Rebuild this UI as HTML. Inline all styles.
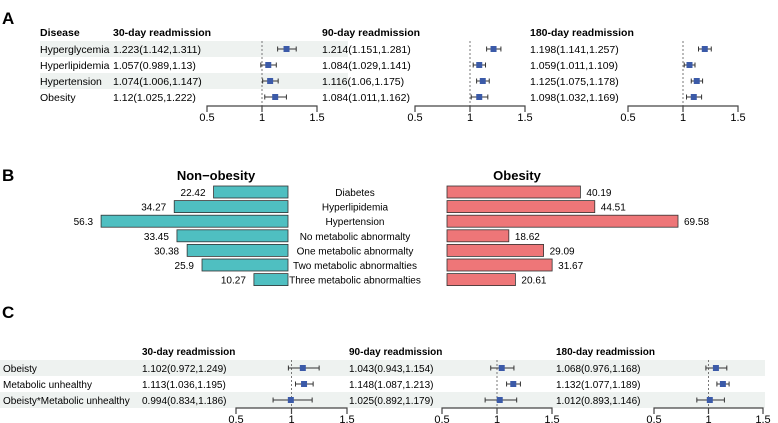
<!DOCTYPE html>
<html><head><meta charset="utf-8">
<style>
body{margin:0;background:#fff;}
svg{display:block;font-family:"Liberation Sans",Arial,sans-serif;}
</style></head>
<body>
<svg id="fig" width="778" height="423" viewBox="0 0 778 423" xmlns="http://www.w3.org/2000/svg">
<text x="2" y="24" font-size="17" font-weight="bold">A</text>
<text x="2" y="181" font-size="17" font-weight="bold">B</text>
<text x="2" y="318" font-size="17" font-weight="bold">C</text>
<g id="A"></g><g id="B"></g><g id="C"></g>
</svg>
<script>
// Panel A data
const aCategories = ["Hyperglycemia","Hyperlipidemia","Hypertension","Obesity"];
const aPeriods = ["30-day readmission","90-day readmission","180-day readmission"];
const aEst = [[1.223,1.057,1.074,1.12],[1.214,1.084,1.116,1.084],[1.198,1.059,1.125,1.098]];
const aLow = [[1.142,0.989,1.006,1.025],[1.151,1.029,1.06,1.011],[1.141,1.011,1.075,1.032]];
const aHigh = [[1.311,1.13,1.147,1.222],[1.281,1.141,1.175,1.162],[1.257,1.109,1.178,1.169]];
const aLabels = [["1.223(1.142,1.311)","1.057(0.989,1.13)","1.074(1.006,1.147)","1.12(1.025,1.222)"],
 ["1.214(1.151,1.281)","1.084(1.029,1.141)","1.116(1.06,1.175)","1.084(1.011,1.162)"],
 ["1.198(1.141,1.257)","1.059(1.011,1.109)","1.125(1.075,1.178)","1.098(1.032,1.169)"]];
// Panel B data
const bCategories = ["Diabetes","Hyperlipidemia","Hypertension","No metabolic abnormalty","One metabolic abnormalty","Two metabolic abnormalties","Three metabolic abnormalties"];
const bNonObesity = [22.42,34.27,56.3,33.45,30.38,25.9,10.27];
const bObesity = [40.19,44.51,69.58,18.62,29.09,31.67,20.61];
// Panel C data
const cCategories = ["Obeisty","Metabolic unhealthy","Obeisty*Metabolic unhealthy"];
const cEst = [[1.102,1.113,0.994],[1.043,1.148,1.025],[1.068,1.132,1.012]];
const cLow = [[0.972,1.036,0.834],[0.943,1.087,0.892],[0.976,1.077,0.893]];
const cHigh = [[1.249,1.195,1.186],[1.154,1.213,1.179],[1.168,1.189,1.146]];
const cLabels = [["1.102(0.972,1.249)","1.113(1.036,1.195)","0.994(0.834,1.186)"],
 ["1.043(0.943,1.154)","1.148(1.087,1.213)","1.025(0.892,1.179)"],
 ["1.068(0.976,1.168)","1.132(1.077,1.189)","1.012(0.893,1.146)"]];
const ticks = [0.5,1,1.5];

const NS="http://www.w3.org/2000/svg";
function mk(parent,tag,attrs,text){const e=document.createElementNS(NS,tag);for(const k in attrs)e.setAttribute(k,attrs[k]);if(text!==undefined)e.textContent=text;parent.appendChild(e);return e;}

function forest(g,cfg){
  cfg.cats.forEach((c,i)=>{ if(i%2===0){const r=mk(g,'rect',{x:cfg.shadeX0,y:cfg.row0+i*16-8,width:cfg.shadeX1-cfg.shadeX0,height:16,fill:'#eef2f0'});
    
    }});
  if(cfg.firstHeader){const t=mk(g,'text',{x:cfg.labelX,y:cfg.headerY+4,'font-size':cfg.fs,'font-weight':'bold'},cfg.firstHeader);
    
    }
  cfg.cats.forEach((c,i)=>{const t=mk(g,'text',{x:cfg.labelX,y:cfg.row0+i*16+4,'font-size':cfg.fs},c);
    
    });
  cfg.periods.forEach((p,k)=>{
    const a0=cfg.axes[k][0], a1=cfg.axes[k][1];
    const sx=v=>a0+(v-0.5)/(1.0)*(a1-a0);
    const h=mk(g,'text',{x:cfg.valX[k],y:cfg.headerY+4,'font-size':cfg.fs,'font-weight':'bold'},p);
    
    
    const ref=mk(g,'line',{x1:sx(1),x2:sx(1),y1:cfg.row0-8,y2:cfg.axisY,stroke:'#777','stroke-dasharray':'2,2','stroke-width':1});
    
    
    cfg.cats.forEach((c,i)=>{
      const y=cfg.row0+i*16;
      const t=mk(g,'text',{x:cfg.valX[k],y:y+4,'font-size':cfg.fs},cfg.labels[k][i]);
      
      
      const l=mk(g,'path',{d:`M${sx(cfg.low[k][i])},${y}H${sx(cfg.high[k][i])}M${sx(cfg.low[k][i])},${y-2.5}v5M${sx(cfg.high[k][i])},${y-2.5}v5`,stroke:'#333','stroke-width':1,fill:'none'});
      
      
      const m=mk(g,'rect',{x:sx(cfg.est[k][i])-3,y:y-3,width:6,height:6,fill:'#3b5aa8'});
      
      
    });
    const ax=mk(g,'path',{d:`M${sx(0.5)},${cfg.axisY+6}V${cfg.axisY}H${sx(1.5)}V${cfg.axisY+6}M${sx(1)},${cfg.axisY}v6`,stroke:'#444','stroke-width':1.2,fill:'none'});
    
    
    ticks.forEach(tv=>{const t=mk(g,'text',{x:sx(tv),y:cfg.axisY+15,'font-size':11,'text-anchor':'middle'},String(tv));
      
      });
  });
}

forest(document.getElementById('A'),{cats:aCategories,periods:aPeriods,est:aEst,low:aLow,high:aHigh,labels:aLabels,
  shadeX0:40,shadeX1:348,row0:49,headerY:32,labelX:40,valX:[113,322,530],axes:[[207,317],[415,525],[628,738]],axisY:106,fs:10.5,firstHeader:"Disease"});
forest(document.getElementById('C'),{cats:cCategories,periods:aPeriods,est:cEst,low:cLow,high:cHigh,labels:cLabels,
  shadeX0:0,shadeX1:765,row0:368,headerY:351,labelX:3,valX:[142,349,556],axes:[[236,347],[442,552],[654,763]],axisY:408,fs:10});

// Panel B
(function(){
  const g=document.getElementById('B');
  const ppu=3.32, y0=192, step=14.6, bh=12;
  const leftEdge=288, rightStart=447;
  const t1=mk(g,'text',{x:216,y:180,'font-size':13,'font-weight':'bold','text-anchor':'middle'},'Non\u2212obesity');
  
  
  const t2=mk(g,'text',{x:517,y:180,'font-size':13,'font-weight':'bold','text-anchor':'middle'},'Obesity');
  
  
  bCategories.forEach((c,i)=>{
    const y=y0+i*step;
    const w1=bNonObesity[i]*ppu;
    const r1=mk(g,'rect',{x:leftEdge-w1,y:y-bh/2,width:w1,height:bh,fill:'#4fbfc1',stroke:'#333','stroke-width':0.8});
    
    
    const v1=mk(g,'text',{x:leftEdge-w1-8,y:y+4,'font-size':10,'text-anchor':'end'},String(bNonObesity[i]));
    
    
    const w2=bObesity[i]*ppu;
    const r2=mk(g,'rect',{x:rightStart,y:y-bh/2,width:w2,height:bh,fill:'#ee7678',stroke:'#333','stroke-width':0.8});
    
    
    const v2=mk(g,'text',{x:rightStart+w2+6,y:y+4,'font-size':10},String(bObesity[i]));
    
    
    const l=mk(g,'text',{x:355,y:y+4,'font-size':10,'text-anchor':'middle'},c);
    
    
  });
})();
</script>
</body></html>
